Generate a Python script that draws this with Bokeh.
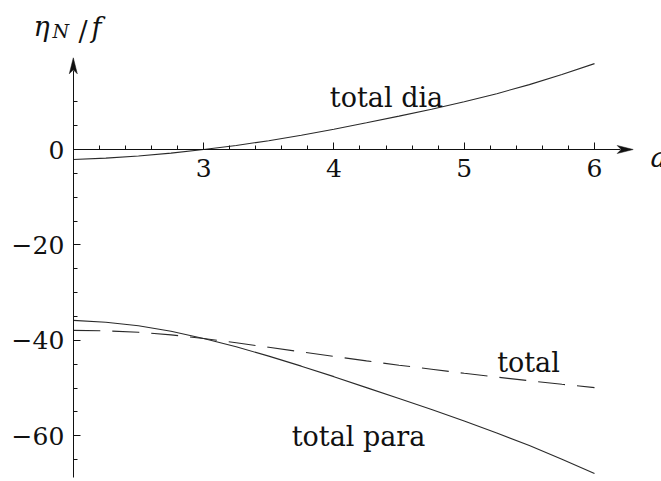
import numpy as np
from bokeh.plotting import figure
from bokeh.models import Range1d, LinearAxis, FixedTicker, CustomJSTickFormatter, Label
from bokeh.embed import file_html
from bokeh.resources import INLINE

# sampled values of eta_N / f against a
a_values = [2.0, 2.25, 2.5, 2.75, 3.0, 3.25, 3.5, 3.75, 4.0,
            4.25, 4.5, 4.75, 5.0, 5.25, 5.5, 5.75, 6.0]
total_dia = [-2.1, -1.8, -1.35, -0.75, 0.0, 0.85, 1.85, 3.0, 4.25,
             5.6, 7.0, 8.45, 10.0, 11.7, 13.6, 15.7, 18.0]
total_para = [-35.8, -36.2, -36.95, -38.1, -39.6, -41.35, -43.3, -45.4, -47.6,
              -49.9, -52.2, -54.5, -56.9, -59.4, -62.05, -64.9, -67.9]
total = [-37.9, -38.0, -38.3, -38.85, -39.6, -40.5, -41.45, -42.4, -43.35,
         -44.3, -45.2, -46.05, -46.9, -47.7, -48.45, -49.2, -49.9]

x_ticks = [3, 4, 5, 6]
y_ticks = [-60, -40, -20, 0]

# scale: pixels per data unit, and where the axes cross
SX, SY = 130.3, 4.772
X_CROSS_PX, Y_CROSS_PX = 72.8, 149.0
W, H = 661, 481

def dx(px):
    return 2 + (px - X_CROSS_PX) / SX

def dy(py):
    return (Y_CROSS_PX - py) / SY

p = figure(width=W, height=H, output_backend="svg", toolbar_location=None,
           x_axis_type=None, y_axis_type=None,
           x_range=Range1d(dx(0), dx(W)), y_range=Range1d(dy(H), dy(0)),
           min_border=0)
p.outline_line_color = None
p.background_fill_color = "white"
p.border_fill_color = "white"

minus_fmt = CustomJSTickFormatter(code="return tick < 0 ? '\\u2212' + Math.abs(tick) : String(tick);")

def style_axis(ax):
    ax.axis_line_color = "#111111"
    ax.axis_line_width = 1
    ax.major_tick_line_color = "#111111"
    ax.minor_tick_line_color = "#111111"
    ax.major_tick_in = 7
    ax.major_tick_out = 0
    ax.minor_tick_in = 4
    ax.minor_tick_out = 0
    ax.major_label_text_font = "DejaVu Serif"
    ax.major_label_text_font_size = "25px"
    ax.major_label_text_color = "#111111"
    ax.formatter = minus_fmt

x_minor = [round(v, 1) for v in np.arange(2.2, 6.0, 0.2) if abs(v - round(v)) > 1e-6]
xaxis = LinearAxis(fixed_location=0, bounds=(2, dx(620)),
                   ticker=FixedTicker(ticks=x_ticks, minor_ticks=x_minor))
style_axis(xaxis)
xaxis.major_label_standoff = 9
p.add_layout(xaxis, "below")

y_minor = [v for v in range(-65, 15, 5) if v % 20 != 0]
yaxis = LinearAxis(fixed_location=2, bounds=(dy(476.7), dy(70)),
                   ticker=FixedTicker(ticks=y_ticks, minor_ticks=y_minor))
style_axis(yaxis)
yaxis.major_label_standoff = 9
p.add_layout(yaxis, "left")

# arrow heads at the ends of both axes
def head(tip_px, horizontal, length=16, half=4, notch=4):
    tx, ty = tip_px
    if horizontal:
        xs = [tx, tx - length, tx - (length - notch), tx - length]
        ys = [ty, ty - half, ty, ty + half]
    else:
        xs = [tx, tx - half, tx, tx + half]
        ys = [ty, ty + length, ty + (length - notch), ty + length]
    return [dx(v) for v in xs], [dy(v) for v in ys]

for tip, hor in (((632.7, Y_CROSS_PX), True), ((X_CROSS_PX, 57.3), False)):
    hx, hy = head(tip, hor)
    p.patch(hx, hy, fill_color="#111111", line_color="#111111", line_width=0.5)

# curves
p.line(a_values, total_dia, line_color="#2a2a2a", line_width=1.1)
p.line(a_values, total_para, line_color="#2a2a2a", line_width=1.1)
p.line(a_values, total, line_color="#2a2a2a", line_width=1.1, line_dash="27 12")

def text(x, y, s, size="27px", style="normal", align="left"):
    p.add_layout(Label(x=x, y=y, text=s, text_font="DejaVu Serif",
                       text_font_size=size, text_font_style=style,
                       text_color="#111111", text_align=align,
                       text_baseline="alphabetic"))

text(dx(386), dy(96.7), "total dia", align="center")
text(dx(528), dy(361.7), "total", align="center")
text(dx(358), dy(436), "total para", align="center")

# axis titles
text(dx(33), dy(26), "η", style="italic")
text(dx(52), dy(30), "N", size="19px", style="italic")
text(dx(78), dy(31), "/", size="27px")
text(dx(91), dy(27), "f", style="italic")
text(dx(650), dy(157), "a", style="italic")

open("out.html", "w").write(file_html(p, INLINE))
